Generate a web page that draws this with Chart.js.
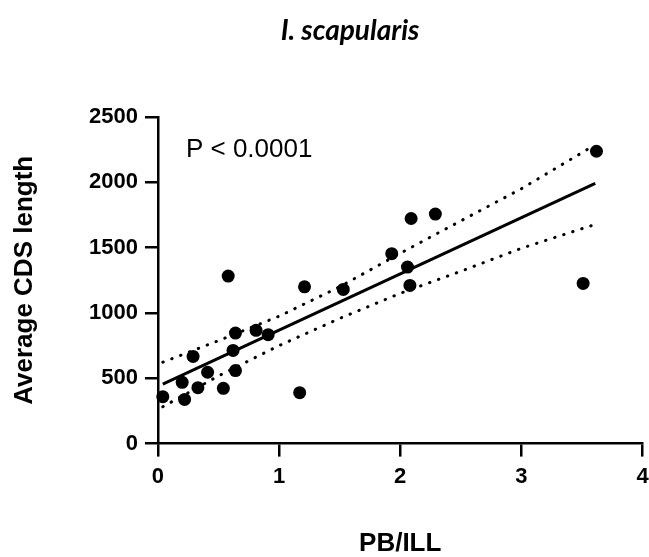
<!DOCTYPE html>
<html>
<head>
<meta charset="utf-8">
<script src="https://cdn.jsdelivr.net/npm/chart.js@4.4.1/dist/chart.umd.min.js"></script>
<style>
  html, body { margin: 0; padding: 0; background: #fff; }
  canvas { display: block; }
</style>
</head>
<body>
<canvas id="cdsChart" width="649" height="557"></canvas>
<script>
// PB/ILL ratio vs average CDS length, one point per assembly
const ratioX = [0.04, 0.20, 0.22, 0.29, 0.33, 0.41, 0.54, 0.58, 0.62, 0.64, 0.64, 0.81, 0.91,
                1.17, 1.21, 1.53, 1.93, 2.06, 2.09, 2.08, 2.29, 3.51, 3.62];
const cdsLength = [359, 469, 338, 667, 428, 546, 423, 1282, 713, 846, 559, 867, 834,
                   390, 1200, 1180, 1454, 1351, 1723, 1211, 1757, 1226, 2238];

// fitted line and its 95% band
const fitX = [0.04, 3.61];
const fitY = [455, 1992];
const bandX = [0.04, 0.5, 1, 1.5, 2, 2.5, 3, 3.6];
const bandUpper = [623, 788, 975, 1200, 1457, 1705, 1951, 2282];
const bandLower = [282, 518, 750, 958, 1150, 1319, 1495, 1675];

const xMax = 4;
const yMax = 2500;
const xStep = 1;
const yStep = 500;

const chartTitle = 'I. scapularis';
const pText = 'P < 0.0001';

function toPoints(xs, ys) {
  return xs.map((x, i) => ({ x: x, y: ys[i] }));
}

const sans = "'Liberation Sans', Arial, sans-serif";
const axisFont = { family: sans, weight: 'bold', size: 22 };
const titleFont = { family: sans, weight: 'bold', size: 26, lineHeight: 1 };

// title sits left of centre in the figure, and the p-value inside the plot
const textLabels = {
  id: 'textLabels',
  afterDraw(chart) {
    const ctx = chart.ctx;
    const area = chart.chartArea;
    ctx.save();
    ctx.fillStyle = '#000';
    ctx.textAlign = 'center';
    ctx.textBaseline = 'alphabetic';
    ctx.font = "italic bold 28px Lato, sans-serif";
    ctx.fillText(chartTitle, 350, 40);
    ctx.font = "26px " + sans;
    ctx.textBaseline = 'middle';
    ctx.textAlign = 'left';
    ctx.fillText(pText, area.left + 28, area.top + 33);
    ctx.restore();
  }
};

const dotted = {
  showLine: true,
  borderColor: '#000',
  borderWidth: 3,
  borderDash: [0.5, 9],
  borderCapStyle: 'round',
  pointRadius: 0,
  fill: false,
  clip: false
};

new Chart(document.getElementById('cdsChart'), {
  type: 'scatter',
  data: {
    datasets: [
      {
        label: 'data',
        data: toPoints(ratioX, cdsLength),
        backgroundColor: '#000',
        borderWidth: 0,
        pointRadius: 6.5,
        clip: false
      },
      {
        label: 'fit',
        data: toPoints(fitX, fitY),
        showLine: true,
        borderColor: '#000',
        borderWidth: 3,
        pointRadius: 0,
        clip: false
      },
      Object.assign({ label: 'upper', data: toPoints(bandX, bandUpper) }, dotted),
      Object.assign({ label: 'lower', data: toPoints(bandX, bandLower) }, dotted)
    ]
  },
  options: {
    responsive: false,
    animation: false,
    layout: { padding: { left: 0, right: 0, top: 117, bottom: 0 } },
    plugins: {
      legend: { display: false },
      tooltip: { enabled: false },
      title: { display: false }
    },
    scales: {
      x: {
        type: 'linear',
        min: 0,
        max: xMax,
        afterFit(scale) { scale.paddingRight = 6; },
        ticks: { stepSize: xStep, color: '#000', font: axisFont, padding: 7, callback: v => String(v) },
        grid: { drawOnChartArea: false, drawTicks: true, tickLength: 13, color: '#000', lineWidth: 2.5 },
        border: { color: '#000', width: 2.5 },
        title: { display: true, text: 'PB/ILL', color: '#000', font: titleFont, padding: { top: 34, bottom: 0 } }
      },
      y: {
        min: 0,
        max: yMax,
        ticks: { stepSize: yStep, color: '#000', font: axisFont, padding: 7, callback: v => String(v) },
        grid: { drawOnChartArea: false, drawTicks: true, tickLength: 13, color: '#000', lineWidth: 2.5 },
        border: { color: '#000', width: 2.5 },
        title: { display: true, text: 'Average CDS length', color: '#000', font: titleFont, padding: { top: 12, bottom: 44 } }
      }
    }
  },
  plugins: [textLabels]
});
</script>
</body>
</html>
